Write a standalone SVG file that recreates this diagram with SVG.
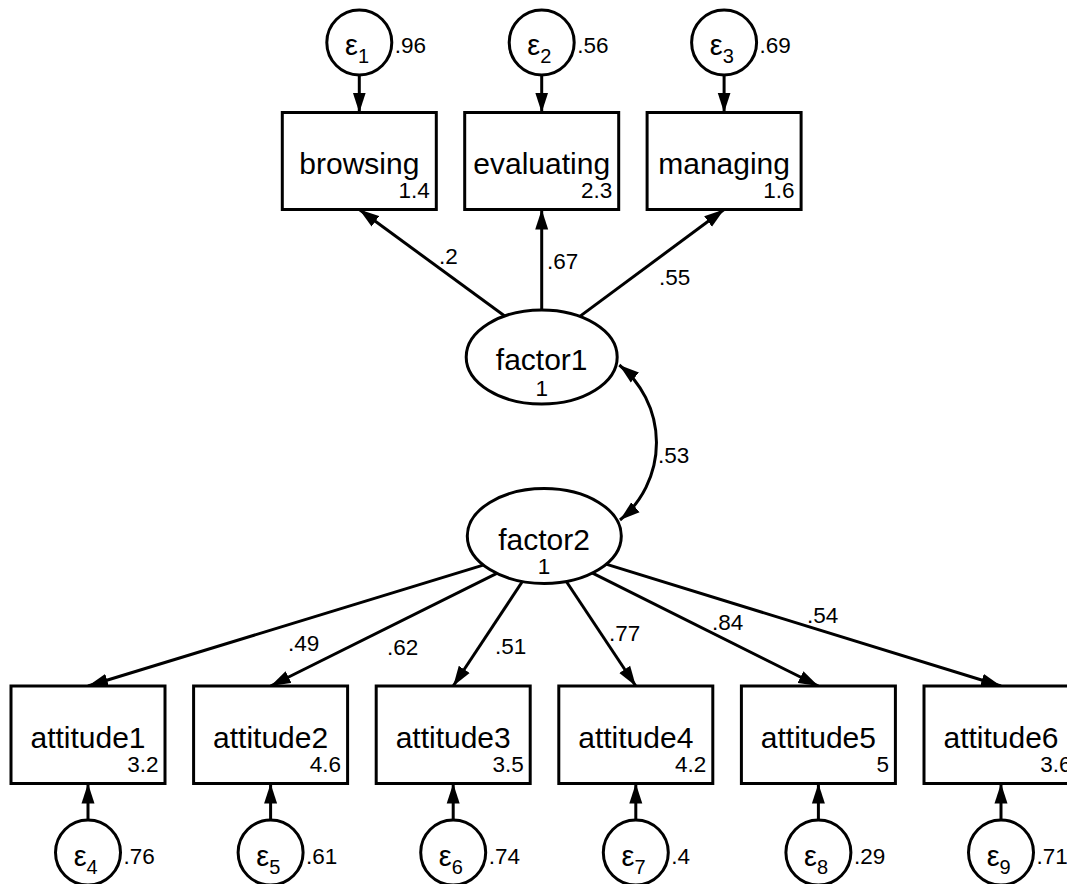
<svg xmlns="http://www.w3.org/2000/svg" width="1067" height="884" viewBox="0 0 1067 884">
<style>
  text { font-family: "Liberation Sans", Arial, Helvetica, sans-serif; fill: #000; }
  .name { font-size: 30px; text-anchor: middle; }
  .num { font-size: 22.5px; text-anchor: end; }
  .val { font-size: 22.5px; }
  .lab { font-size: 22.5px; }
  .eps { font-size: 29px; text-anchor: middle; }
  .sub { font-size: 20px; }
  .mid { font-size: 22.5px; text-anchor: middle; }
  .box { fill: #fff; stroke: #000; stroke-width: 3; }
  .lat { fill: #fff; stroke: #000; stroke-width: 3; }
  .conn { fill: none; stroke: #000; stroke-width: 3; marker-end: url(#arr); }
</style>
<defs>
  <marker id="arr" viewBox="0 0 20 14" markerWidth="20" markerHeight="14" refX="20" refY="7" orient="auto-start-reverse" markerUnits="userSpaceOnUse">
    <path d="M0,0.5 L20,7 L0,13.5 z" fill="#000"/>
  </marker>
</defs>
<rect width="1067" height="884" fill="#fff"/>

<g id="connectors">
  <!-- errors to top indicators -->
  <line class="conn" x1="359.3" y1="70" x2="359.3" y2="112.5"/>
  <line class="conn" x1="541.7" y1="70" x2="541.7" y2="112.5"/>
  <line class="conn" x1="724.1" y1="70" x2="724.1" y2="112.5"/>
  <!-- factor1 loadings -->
  <line class="conn" x1="515.4" y1="323.9" x2="359.3" y2="209.5"/>
  <line class="conn" x1="541.7" y1="325" x2="541.7" y2="209.5"/>
  <line class="conn" x1="569.7" y1="323.9" x2="724.1" y2="209.5"/>
  <!-- covariance -->
  <path class="conn" d="M619.3,365 A100,100 0 0 1 620,520" marker-start="url(#arr)"/>
  <!-- factor2 loadings -->
  <line class="conn" x1="491.3" y1="562.6" x2="88" y2="686"/>
  <line class="conn" x1="505.8" y1="568.8" x2="270.6" y2="686"/>
  <line class="conn" x1="530.3" y1="569.5" x2="453.2" y2="686"/>
  <line class="conn" x1="557.7" y1="568.5" x2="635.8" y2="686"/>
  <line class="conn" x1="583.6" y1="568.7" x2="818.4" y2="686"/>
  <line class="conn" x1="594.7" y1="560.6" x2="1001" y2="686"/>
  <!-- errors to bottom indicators -->
  <line class="conn" x1="88" y1="825" x2="88" y2="783.5"/>
  <line class="conn" x1="270.6" y1="825" x2="270.6" y2="783.5"/>
  <line class="conn" x1="453.2" y1="825" x2="453.2" y2="783.5"/>
  <line class="conn" x1="635.8" y1="825" x2="635.8" y2="783.5"/>
  <line class="conn" x1="818.4" y1="825" x2="818.4" y2="783.5"/>
  <line class="conn" x1="1001" y1="825" x2="1001" y2="783.5"/>
  <!-- path labels -->
  <text class="lab" x="439" y="263.5">.2</text>
  <text class="lab" x="547" y="269">.67</text>
  <text class="lab" x="659" y="285">.55</text>
  <text class="lab" x="658" y="463">.53</text>
  <text class="lab" x="288" y="651">.49</text>
  <text class="lab" x="387" y="655">.62</text>
  <text class="lab" x="495" y="653.5">.51</text>
  <text class="lab" x="609" y="640.5">.77</text>
  <text class="lab" x="712" y="630">.84</text>
  <text class="lab" x="807" y="623">.54</text>
</g>

<g id="e1"><circle class="lat" cx="359.3" cy="42.5" r="32.5"/><text class="eps" x="357" y="55">ε<tspan class="sub" dy="8">1</tspan></text><text class="val" x="394.8" y="53">.96</text></g>
<g id="e2"><circle class="lat" cx="541.7" cy="42.5" r="32.5"/><text class="eps" x="539.4" y="55">ε<tspan class="sub" dy="8">2</tspan></text><text class="val" x="577.2" y="53">.56</text></g>
<g id="e3"><circle class="lat" cx="724.1" cy="42.5" r="32.5"/><text class="eps" x="721.8" y="55">ε<tspan class="sub" dy="8">3</tspan></text><text class="val" x="759.6" y="53">.69</text></g>

<g id="browsing"><rect class="box" x="282.3" y="112.5" width="154" height="97"/><text class="name" x="359.3" y="174">browsing</text><text class="num" x="429.8" y="197.5">1.4</text></g>
<g id="evaluating"><rect class="box" x="464.7" y="112.5" width="154" height="97"/><text class="name" x="541.7" y="174">evaluating</text><text class="num" x="612.2" y="197.5">2.3</text></g>
<g id="managing"><rect class="box" x="647.1" y="112.5" width="154" height="97"/><text class="name" x="724.1" y="174">managing</text><text class="num" x="794.6" y="197.5">1.6</text></g>

<g id="factor1"><ellipse class="lat" cx="541.7" cy="357" rx="75.5" ry="47"/><text class="name" x="541.7" y="369.5">factor1</text><text class="mid" x="541.7" y="395.5">1</text></g>
<g id="factor2"><ellipse class="lat" cx="544.3" cy="536" rx="77" ry="47.5"/><text class="name" x="544" y="549.5">factor2</text><text class="mid" x="544" y="574">1</text></g>

<g id="attitude1"><rect class="box" x="11" y="686" width="154" height="97.5"/><text class="name" x="88" y="748">attitude1</text><text class="num" x="158.5" y="771.5">3.2</text></g>
<g id="attitude2"><rect class="box" x="193.6" y="686" width="154" height="97.5"/><text class="name" x="270.6" y="748">attitude2</text><text class="num" x="341.1" y="771.5">4.6</text></g>
<g id="attitude3"><rect class="box" x="376.2" y="686" width="154" height="97.5"/><text class="name" x="453.2" y="748">attitude3</text><text class="num" x="523.7" y="771.5">3.5</text></g>
<g id="attitude4"><rect class="box" x="558.8" y="686" width="154" height="97.5"/><text class="name" x="635.8" y="748">attitude4</text><text class="num" x="706.3" y="771.5">4.2</text></g>
<g id="attitude5"><rect class="box" x="741.4" y="686" width="154" height="97.5"/><text class="name" x="818.4" y="748">attitude5</text><text class="num" x="888.9" y="771.5">5</text></g>
<g id="attitude6"><rect class="box" x="924" y="686" width="154" height="97.5"/><text class="name" x="1001" y="748">attitude6</text><text class="num" x="1071.5" y="771.5">3.6</text></g>

<g id="e4"><circle class="lat" cx="88" cy="852.5" r="32.5"/><text class="eps" x="85.7" y="865.5">ε<tspan class="sub" dy="8">4</tspan></text><text class="val" x="123.5" y="863.5">.76</text></g>
<g id="e5"><circle class="lat" cx="270.6" cy="852.5" r="32.5"/><text class="eps" x="268.3" y="865.5">ε<tspan class="sub" dy="8">5</tspan></text><text class="val" x="306.1" y="863.5">.61</text></g>
<g id="e6"><circle class="lat" cx="453.2" cy="852.5" r="32.5"/><text class="eps" x="450.9" y="865.5">ε<tspan class="sub" dy="8">6</tspan></text><text class="val" x="488.7" y="863.5">.74</text></g>
<g id="e7"><circle class="lat" cx="635.8" cy="852.5" r="32.5"/><text class="eps" x="633.5" y="865.5">ε<tspan class="sub" dy="8">7</tspan></text><text class="val" x="671.3" y="863.5">.4</text></g>
<g id="e8"><circle class="lat" cx="818.4" cy="852.5" r="32.5"/><text class="eps" x="816.1" y="865.5">ε<tspan class="sub" dy="8">8</tspan></text><text class="val" x="853.9" y="863.5">.29</text></g>
<g id="e9"><circle class="lat" cx="1001" cy="852.5" r="32.5"/><text class="eps" x="998.7" y="865.5">ε<tspan class="sub" dy="8">9</tspan></text><text class="val" x="1036.5" y="863.5">.71</text></g>
</svg>
